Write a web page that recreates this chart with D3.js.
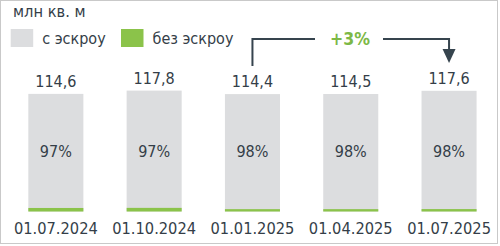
<!DOCTYPE html>
<html>
<head>
<meta charset="utf-8">
<script src="https://cdn.jsdelivr.net/npm/d3@7"></script>
<style>
  html, body { margin: 0; padding: 0; background: #fff; }
  svg text { font-family: "DejaVu Sans Condensed", "DejaVu Sans", sans-serif; font-stretch: condensed; fill: #343e48; }
</style>
</head>
<body>
<div id="wrap"></div>
<script>
const dates = ["01.07.2024", "01.10.2024", "01.01.2025", "01.04.2025", "01.07.2025"];
const totals = [114.6, 117.8, 114.4, 114.5, 117.6];
const escrowShare = [97, 97, 98, 98, 98];
const totalLabels = ["114,6", "117,8", "114,4", "114,5", "117,6"];
const legendNames = ["с эскроу", "без эскроу"];
const unitLabel = "млн кв. м";
const growthLabel = "+3%";

const width = 500;
const height = 246;
const baseY = 211.5;

const colors = { escrow: "#dcdddf", noEscrow: "#8bc34a", arrow: "#36444e", growth: "#7cb846" };

const data = dates.map((d, i) => ({
    date: d,
    total: totals[i],
    escrow: totals[i] * escrowShare[i] / 100,
    share: escrowShare[i],
    label: totalLabels[i]
}));

const x = d3.scaleBand()
    .domain(dates)
    .range([6.7, 498.2])
    .paddingInner(0.44)
    .paddingOuter(0.22);

const y = d3.scaleLinear()
    .domain([0, 117.8])
    .range([baseY, 90.6]);

const svg = d3.select("#wrap").append("svg")
    .attr("width", width)
    .attr("height", height);

// frame
svg.append("rect")
    .attr("x", 0.5).attr("y", 0.5)
    .attr("width", 497).attr("height", 243)
    .attr("fill", "none")
    .attr("stroke", "#c9c9c9");

// unit title
svg.append("text")
    .attr("x", 13).attr("y", 17)
    .attr("font-size", 16.3)
    .text(unitLabel);

// legend
const legend = svg.append("g");
const legendX = [10.7, 121];
legendNames.forEach((name, i) => {
    legend.append("rect")
        .attr("x", legendX[i]).attr("y", 29)
        .attr("width", 22.5).attr("height", 18)
        .attr("fill", i === 0 ? colors.escrow : colors.noEscrow);
    legend.append("text")
        .attr("x", legendX[i] + 31.5).attr("y", 44)
        .attr("font-size", 16)
        .text(name);
});

// bars
const bars = svg.append("g").selectAll("g").data(data).join("g");

bars.append("rect")
    .attr("x", d => x(d.date))
    .attr("y", d => y(d.total))
    .attr("width", x.bandwidth())
    .attr("height", d => y(0) - y(d.total))
    .attr("fill", colors.escrow);

bars.append("rect")
    .attr("x", d => x(d.date))
    .attr("y", d => y(d.total - d.escrow))
    .attr("width", x.bandwidth())
    .attr("height", d => y(0) - y(d.total - d.escrow))
    .attr("fill", colors.noEscrow);

bars.append("text")
    .attr("x", d => x(d.date) + x.bandwidth() / 2)
    .attr("y", d => y(d.total) - 6.7)
    .attr("text-anchor", "middle")
    .attr("font-size", 16)
    .text(d => d.label);

bars.append("text")
    .attr("x", d => x(d.date) + x.bandwidth() / 2)
    .attr("y", 157)
    .attr("text-anchor", "middle")
    .attr("font-size", 16)
    .text(d => d.share + "%");

// date axis
const xAxis = d3.axisBottom(x).tickSize(0).tickPadding(0);
svg.append("g")
    .attr("transform", `translate(0,${baseY})`)
    .call(xAxis)
    .call(g => g.select(".domain").remove())
    .selectAll("text")
    .attr("dy", null)
    .attr("y", 22.5)
    .attr("font-size", 16.3)
    .attr("font-family", null)
    .attr("fill", null);

// growth arrow between 01.01.2025 and 01.07.2025
const cx0 = x(dates[2]) + x.bandwidth() / 2;
const cx1 = x(dates[4]) + x.bandwidth() / 2;
const lineY = 39;
const ann = svg.append("g");
ann.append("path")
    .attr("d", `M${cx0},66 V${lineY} H315`)
    .attr("fill", "none")
    .attr("stroke", colors.arrow)
    .attr("stroke-width", 2);
ann.append("path")
    .attr("d", `M383,${lineY} H${cx1} V50`)
    .attr("fill", "none")
    .attr("stroke", colors.arrow)
    .attr("stroke-width", 2);
ann.append("path")
    .attr("d", `M${cx1 - 6.5},49 L${cx1 + 6.5},49 L${cx1},63 Z`)
    .attr("fill", colors.arrow);
ann.append("text")
    .attr("x", (315 + 383) / 2 + 1).attr("y", 44.5)
    .attr("text-anchor", "middle")
    .attr("font-size", 17.5)
    .attr("font-weight", "bold")
    .style("fill", colors.growth)
    .text(growthLabel);
</script>
</body>
</html>
